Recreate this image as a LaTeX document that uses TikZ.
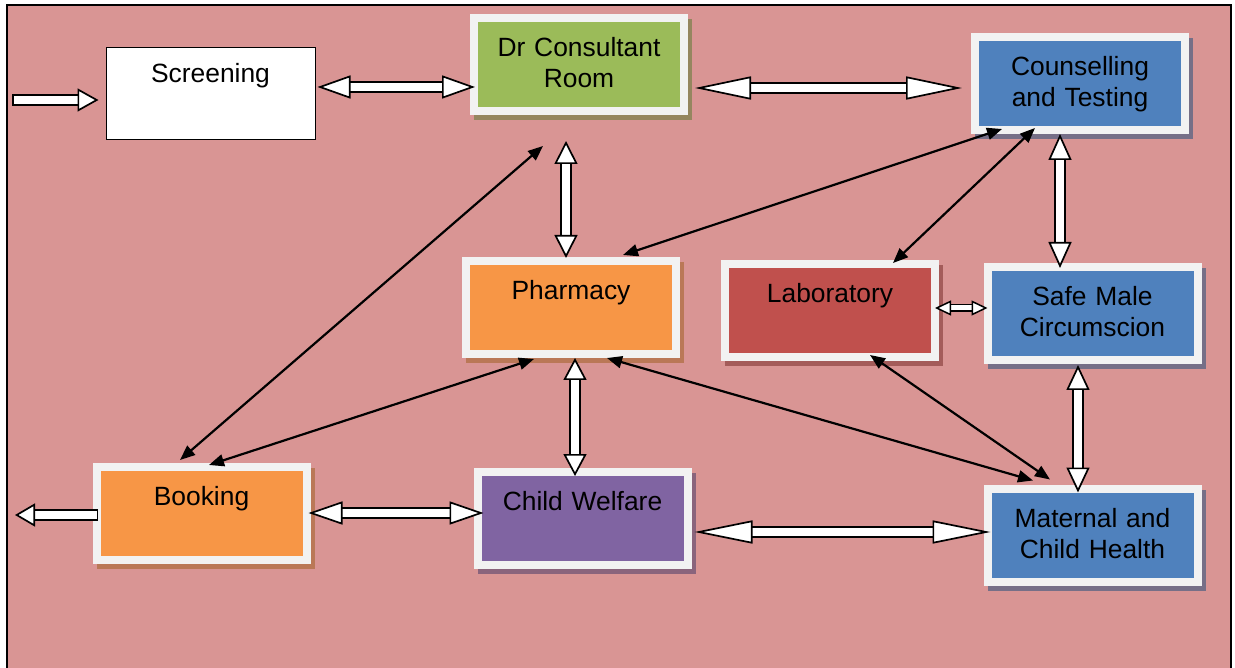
\documentclass[tikz,border=0pt]{standalone}
\usepackage{fontspec}
\setmainfont{Liberation Sans}
\usetikzlibrary{arrows.meta,shadows}

\definecolor{pagepink}{HTML}{D99594}
\definecolor{framegrey}{HTML}{F2F2F2}
\definecolor{drgreen}{HTML}{9BBB59}
\definecolor{unitblue}{HTML}{4F81BD}
\definecolor{unitorange}{HTML}{F79646}
\definecolor{labred}{HTML}{C0504D}
\definecolor{cwpurple}{HTML}{8064A2}

\tikzset{
    unit/.style={rectangle, fill=#1, draw=framegrey, line width=8pt,
        text width=210pt, align=center, inner sep=0pt,
        text height=38.5pt, text depth=54.5pt,
        font=\fontsize{26.4}{31}\selectfont,
        drop shadow={shadow xshift=4pt, shadow yshift=-5pt, opacity=1,
            fill=#1!50!pagepink!80!black, draw=#1!50!pagepink!80!black,
            line width=8pt}},
    entry/.style={rectangle, fill=white, draw=black, line width=1pt,
        text width=209pt, align=center, inner sep=0pt,
        text height=35.5pt, text depth=56.5pt,
        font=\fontsize{26.4}{31}\selectfont},
    fat/.style={draw=black, line width=1.7pt, double=white,
        double distance=8pt, line cap=rect,
        >={Triangle[length=#1, width=23pt, fill=white, line width=1.7pt]}},
    stub/.style={draw=black, line width=1.5pt, double=white,
        double distance=5pt, line cap=rect,
        >={Triangle[length=16pt, width=15pt, fill=white, line width=1.5pt]}},
    link/.style={draw=black, line width=2.2pt, <->,
        >={Triangle[length=15pt, width=12pt]}}
}

\begin{document}
\begin{tikzpicture}[x=1pt, y=-1pt]
    \useasboundingbox (0,0) rectangle (1235,668);
    \fill[pagepink] (7,5.5) rectangle (1231,668);
    \draw[line width=2pt] (7,668) |- (1231,5.5) -- (1231,668);

    % units of the clinic
    \node[entry] (screen) at (210.5,93.5) {Screening};
    \node[unit=drgreen] (dr) at (579,64.5) {Dr Consultant\\Room};
    \node[unit=unitblue] (couns) at (1080,83.5) {Counselling\\and Testing};
    \node[unit=unitorange] (pharm) at (571,307.5) {Pharmacy};
    \node[unit=labred] (lab) at (830,310.5) {Laboratory};
    \node[unit=unitblue] (smc) at (1092.5,313.5) {Safe Male\\Circumscion};
    \node[unit=unitorange] (book) at (201.5,513.5) {Booking};
    \node[unit=cwpurple] (cw) at (582.5,518.5) {Child Welfare};
    \node[unit=unitblue] (mch) at (1092.5,535) {Maternal and\\Child Health};

    \coordinate (enter) at (18,100);
    \coordinate (leave) at (15,515);

    % wide arrows
    \draw[fat=21pt, ->] (enter) -- ([shift={(-7,6.5)}]screen.west);
    \draw[fat=33pt, <->] ([shift={(2,-6.5)}]screen.east) -- ([shift={(5,22.5)}]dr.west);
    \draw[fat=56pt, <->] ([shift={(7,23.5)}]dr.east) -- ([shift={(-9,4.5)}]couns.west);
    \draw[fat=23pt, <->] ([shift={(-13,26)}]dr.south) -- ([shift={(-5,1)}]pharm.north);
    \draw[fat=26pt, <->] ([shift={(-20,0)}]couns.south) -- ([shift={(-32.5,5)}]smc.north);
    \draw[stub, <->] ([shift={(-4,-2.5)}]lab.east) -- ([shift={(4,-5.5)}]smc.west);
    \draw[fat=25pt, <->] ([shift={(-14.5,1)}]smc.south) -- ([shift={(-14.5,8)}]mch.north);
    \draw[fat=22pt, <->] ([shift={(4,0)}]pharm.south) -- ([shift={(-7.5,8)}]cw.north);
    \draw[fat=34pt, <->] ([shift={(-2,-0.5)}]book.east) -- ([shift={(10,-5.5)}]cw.west);
    \draw[fat=58pt, <->] ([shift={(3,13.5)}]cw.east) -- ([shift={(7,-3)}]mch.west);
    \draw[fat=20pt, ->] ([shift={(0,1.5)}]book.west) -- (leave);

    % thin arrows
    \draw[link] ([shift={(-21.5,-3)}]book.north) -- ([shift={(-36,31)}]dr.south);
    \draw[link] ([shift={(7.5,2)}]book.north) -- ([shift={(-37,1)}]pharm.south);
    \draw[link] ([shift={(52,-2)}]pharm.north) -- ([shift={(-78,-5)}]couns.south);
    \draw[link] ([shift={(63,3)}]lab.north) -- ([shift={(-45,-6)}]couns.south);
    \draw[link] ([shift={(36,0)}]pharm.south) -- ([shift={(-59.5,-4)}]mch.north);
    \draw[link] ([shift={(40,-6)}]lab.south) -- ([shift={(-42.5,-5)}]mch.north);

\end{tikzpicture}
\end{document}
